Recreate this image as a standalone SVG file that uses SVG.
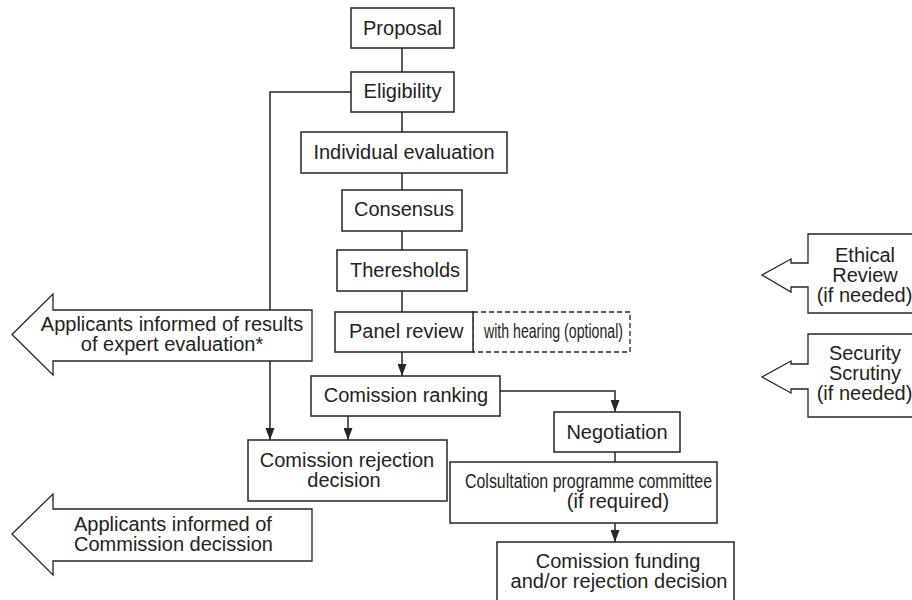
<svg xmlns="http://www.w3.org/2000/svg" width="912" height="600" viewBox="0 0 912 600">
<defs>
<style>
.box{fill:#fff;stroke:#262626;stroke-width:1.5}
.dash{fill:none;stroke:#262626;stroke-width:1.3;stroke-dasharray:5 3}
.big{fill:#fff;stroke:#262626;stroke-width:1.3;stroke-linejoin:miter}
.ln{fill:none;stroke:#262626;stroke-width:1.5}
text{font-family:"Liberation Sans",Arial,sans-serif;font-size:20px;fill:#231f20}
.c{text-anchor:middle}
</style>
<marker id="ah" markerUnits="userSpaceOnUse" markerWidth="12" markerHeight="9" refX="12" refY="4.5" orient="auto">
<path d="M0,0 L12,4.5 L0,9 Z" fill="#262626"/>
</marker>
</defs>
<rect width="912" height="600" fill="#fff"/>
<g id="connectors">
<line class="ln" x1="402" y1="48" x2="402" y2="72"/>
<line class="ln" x1="402" y1="112" x2="402" y2="132"/>
<line class="ln" x1="402" y1="173" x2="402" y2="190"/>
<line class="ln" x1="402" y1="231" x2="402" y2="250"/>
<line class="ln" x1="402" y1="291" x2="402" y2="312"/>
<line class="ln" x1="402" y1="352" x2="402" y2="376" marker-end="url(#ah)"/>
<polyline class="ln" points="351,92 270,92 270,440" marker-end="url(#ah)"/>
<line class="ln" x1="348" y1="416" x2="348" y2="440" marker-end="url(#ah)"/>
<polyline class="ln" points="500,391 615,391 615,412" marker-end="url(#ah)"/>
<line class="ln" x1="615" y1="452" x2="615" y2="462"/>
<line class="ln" x1="615" y1="523" x2="615" y2="542" marker-end="url(#ah)"/>
</g>
<g id="proposal"><rect class="box" x="351" y="8" width="103" height="40"/><text class="c" x="402.5" y="35">Proposal</text></g>
<g id="eligibility"><rect class="box" x="351" y="72" width="103" height="40"/><text class="c" x="402.5" y="98">Eligibility</text></g>
<g id="individual-evaluation"><rect class="box" x="301" y="132" width="206" height="41"/><text class="c" x="404" y="159">Individual evaluation</text></g>
<g id="consensus"><rect class="box" x="342" y="190" width="120" height="41"/><text class="c" x="404" y="216">Consensus</text></g>
<g id="theresholds"><rect class="box" x="337" y="250" width="130" height="41"/><text class="c" x="405" y="277">Theresholds</text></g>
<g id="panel-review"><rect class="dash" x="473" y="312" width="157" height="40"/><rect class="box" x="335" y="312" width="138" height="40"/><text x="349" y="338">Panel review</text><text x="484" y="338" textLength="139" lengthAdjust="spacingAndGlyphs">with hearing (optional)</text></g>
<g id="comission-ranking"><rect class="box" x="311" y="376" width="189" height="40"/><text class="c" x="406" y="402">Comission ranking</text></g>
<g id="negotiation"><rect class="box" x="554" y="412" width="126" height="40"/><text class="c" x="617" y="439">Negotiation</text></g>
<g id="rejection"><rect class="box" x="248" y="440" width="199" height="61"/><text class="c" x="347" y="467">Comission rejection</text><text class="c" x="344" y="487">decision</text></g>
<g id="consultation"><rect class="box" x="450" y="462" width="267" height="61"/><text x="465" y="488" textLength="247" lengthAdjust="spacingAndGlyphs">Colsultation programme committee</text><text class="c" x="618" y="508">(if required)</text></g>
<g id="funding"><rect class="box" x="497" y="542" width="237" height="62"/><text class="c" x="618" y="568">Comission funding</text><text class="c" x="619" y="588">and/or rejection decision</text></g>
<g id="informed-results"><path class="big" d="M312,310 L53,310 L53,294 L12,334.5 L53,375 L53,361 L312,361 Z"/><text class="c" x="172" y="331">Applicants informed of results</text><text class="c" x="172" y="351">of expert evaluation*</text></g>
<g id="informed-decision"><path class="big" d="M312,509 L53,509 L53,494 L12,534 L53,575 L53,561 L312,561 Z"/><text x="74" y="531">Applicants informed of</text><text x="74" y="551">Commission decission</text></g>
<g id="ethical-review"><path class="big" d="M916,234 L808,234 L808,263 L791,263 L791,259 L762,275 L791,292 L791,287 L808,287 L808,313 L916,313"/><text class="c" x="865" y="262">Ethical</text><text class="c" x="865" y="282">Review</text><text class="c" x="864.5" y="302">(if needed)</text></g>
<g id="security-scrutiny"><path class="big" d="M916,334 L808,334 L808,364 L791,364 L791,361 L762,377 L791,393 L791,389 L808,389 L808,417 L916,417"/><text class="c" x="865" y="360">Security</text><text class="c" x="865" y="380">Scrutiny</text><text class="c" x="864.5" y="400">(if needed)</text></g>
</svg>
